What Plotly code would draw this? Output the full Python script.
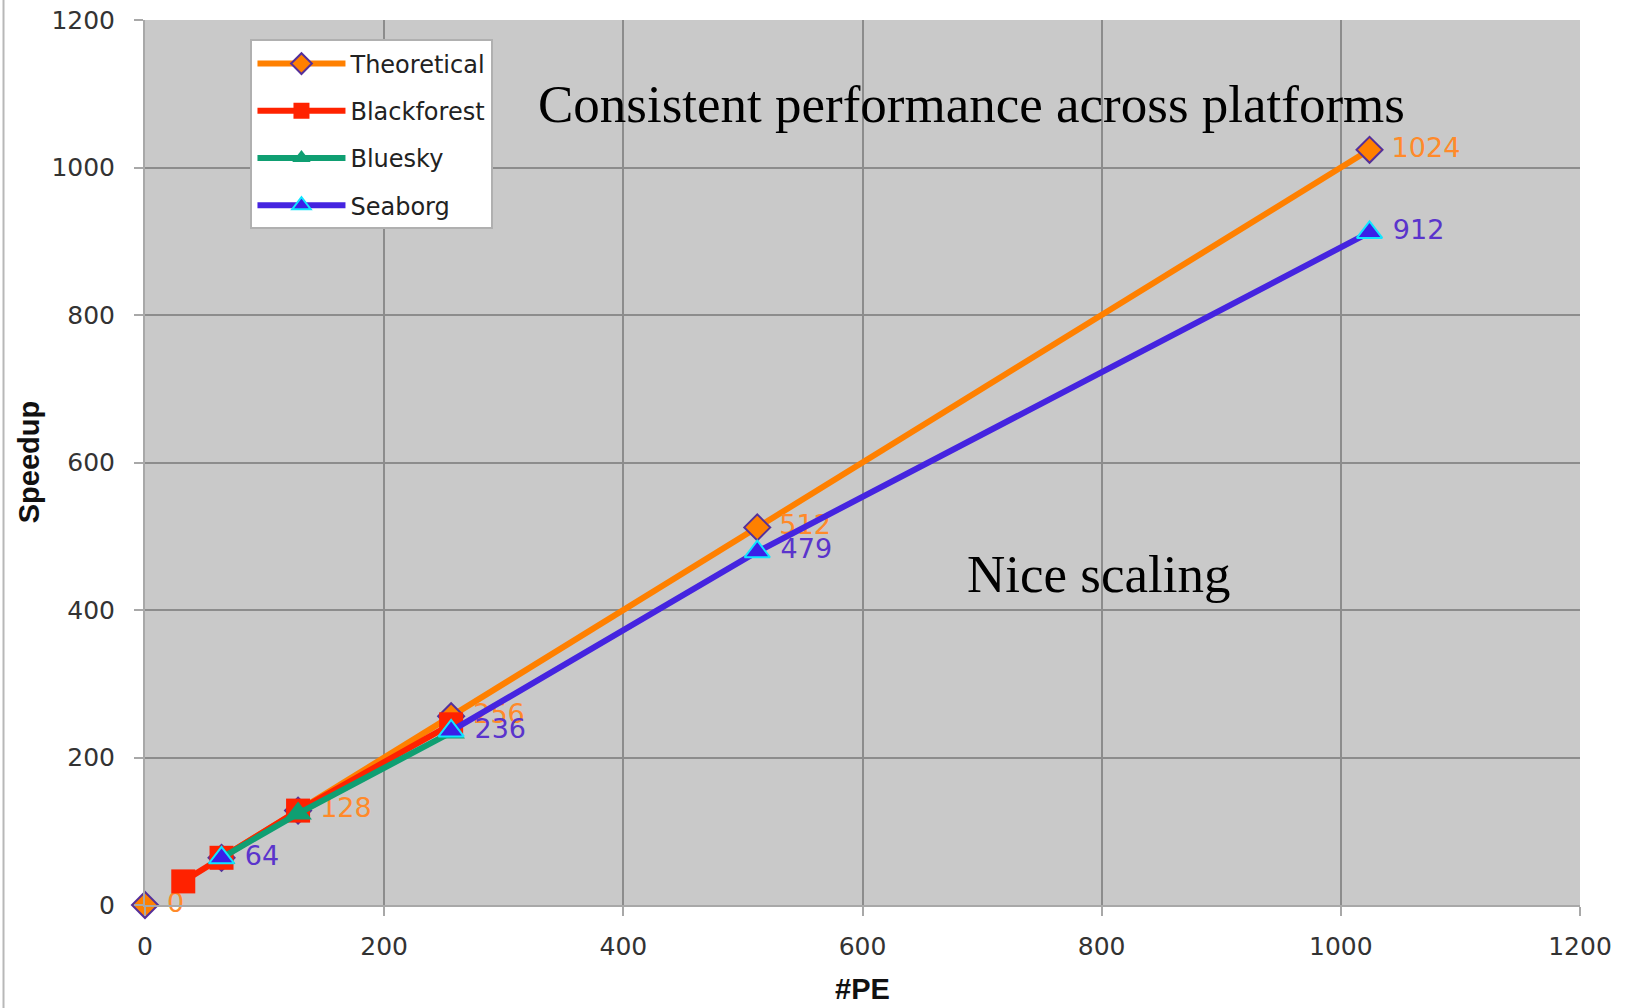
import plotly.graph_objects as go

# Processor counts and measured speedups per platform (None = no run at that size)
pe = [0, 32, 64, 128, 256, 512, 1024]
theoretical = [0, None, 64, 128, 256, 512, 1024]
blackforest = [None, 32, 64, 128, 245, None, None]
bluesky = [None, None, 64, 124, 234, None, None]
seaborg = [None, None, 64, None, 236, 479, 912]

x_ticks = [0, 200, 400, 600, 800, 1000, 1200]
y_ticks = [0, 200, 400, 600, 800, 1000, 1200]

ORANGE = "#ff8000"
RED = "#ff2200"
GREEN = "#0f9f72"
BLUE = "#4524e0"


def labels(values, skip=()):
    return ["" if v is None or x in skip else f" {v}" for x, v in zip(pe, values)]


fig = go.Figure()

fig.add_trace(go.Scatter(
    x=pe, y=theoretical, name="Theoretical", legendgroup="a",
    mode="lines+markers+text",
    line=dict(color=ORANGE, width=6),
    marker=dict(symbol="diamond", size=20, color=ORANGE,
                line=dict(color="#55309a", width=2)),
    text=labels(theoretical, skip=(64,)), textposition="middle right",
    textfont=dict(family="DejaVu Sans", size=27, color="#ff8a2a"),
    cliponaxis=False, connectgaps=False,
))
fig.add_trace(go.Scatter(
    x=pe, y=blackforest, name="Blackforest", legendgroup="b",
    mode="lines+markers",
    line=dict(color=RED, width=6),
    marker=dict(symbol="square", size=24, color=RED),
    cliponaxis=False, connectgaps=False,
))
fig.add_trace(go.Scatter(
    x=pe, y=bluesky, name="Bluesky", legendgroup="c",
    mode="lines+markers",
    line=dict(color=GREEN, width=6),
    marker=dict(symbol="triangle-up", size=24, color=GREEN),
    cliponaxis=False, connectgaps=False,
))
fig.add_trace(go.Scatter(
    x=pe, y=seaborg, name="Seaborg", legendgroup="d",
    mode="lines+markers+text",
    line=dict(color=BLUE, width=6),
    marker=dict(symbol="triangle-up", size=22, color="#3a1fe8",
                line=dict(color="#10e6ff", width=2)),
    text=labels(seaborg), textposition="middle right",
    textfont=dict(family="DejaVu Sans", size=27, color="#5a34cc"),
    cliponaxis=False, connectgaps=False,
))

tick_font = dict(family="DejaVu Sans", size=25, color="#333333")

fig.update_xaxes(
    range=[0, 1200], tickmode="array", tickvals=x_ticks,
    ticktext=[str(v) for v in x_ticks],
    showgrid=True, gridcolor="#8c8c8c", gridwidth=1.5,
    zeroline=False, showline=True, linecolor="#a8a8a8", linewidth=2,
    ticks="outside", ticklen=9, tickcolor="#a8a8a8", tickwidth=1.5,
    ticklabelstandoff=9, tickfont=tick_font,
)
fig.update_yaxes(
    range=[0, 1200], tickmode="array", tickvals=y_ticks,
    ticktext=[str(v) for v in y_ticks],
    showgrid=True, gridcolor="#8c8c8c", gridwidth=1.5,
    zeroline=False, showline=True, linecolor="#a8a8a8", linewidth=2,
    ticks="outside", ticklen=9, tickcolor="#a8a8a8", tickwidth=1.5,
    ticklabelstandoff=14, tickfont=tick_font,
)

fig.update_layout(
    width=1627, height=1008,
    margin=dict(l=145, r=47, t=20, b=103, autoexpand=False),
    paper_bgcolor="white", plot_bgcolor="#c9c9c9",
    showlegend=True,
    legend=dict(
        x=0.0735, y=0.978, xanchor="left", yanchor="top",
        bgcolor="white", bordercolor="#b0b0b0", borderwidth=2,
        font=dict(family="DejaVu Sans", size=24, color="#222222"),
        tracegroupgap=13, itemwidth=88,
    ),
    annotations=[
        dict(x=691, y=1086, xref="x", yref="y", text="Consistent performance across platforms",
             showarrow=False, xanchor="center", yanchor="middle",
             font=dict(family="Liberation Serif", size=53, color="black")),
        dict(x=797, y=449, xref="x", yref="y", text="Nice scaling",
             showarrow=False, xanchor="center", yanchor="middle",
             font=dict(family="Liberation Serif", size=53, color="black")),
        dict(x=-0.081, y=0.5, xref="paper", yref="paper", text="<b>Speedup</b>",
             textangle=-90, showarrow=False, xanchor="center", yanchor="middle",
             font=dict(family="Liberation Sans", size=29, color="#111111")),
        dict(x=0.5, y=-0.095, xref="paper", yref="paper", text="<b>#PE</b>",
             showarrow=False, xanchor="center", yanchor="middle",
             font=dict(family="Liberation Sans", size=29, color="#111111")),
    ],
    shapes=[
        dict(type="line", xref="paper", yref="paper",
             x0=-0.0986, x1=-0.0986, y0=-0.12, y1=1.03,
             line=dict(color="#b8b8b8", width=2)),
    ],
)

fig.write_html("out.html")
